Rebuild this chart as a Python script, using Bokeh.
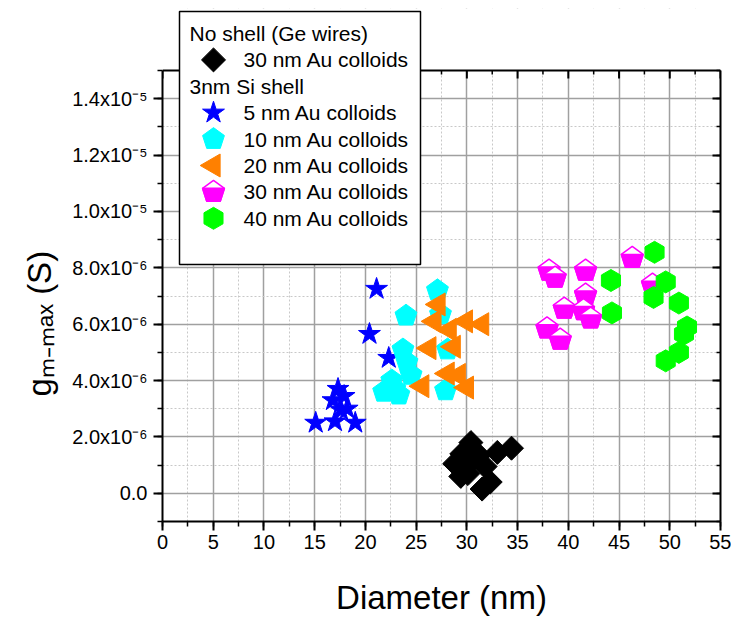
import numpy as np
from bokeh.plotting import figure
from bokeh.models import (Range1d, LinearAxis, SingleIntervalTicker, CustomJSTickFormatter,
                          ColumnDataSource, Title)
from bokeh.core.properties import value
from bokeh.embed import file_html
from bokeh.resources import INLINE

# ---------------- data (diameter in nm, g_m-max in S) ----------------
ge_x = [30.4, 29.5, 28.8, 34.4, 33.0, 31.8, 30.1, 31.5, 32.3, 29.4, 30.6, 31.2]
ge_y = [1.8e-6, 1.4e-6, 1.05e-6, 1.6e-6, 1.45e-6, 0.95e-6, 0.7e-6, 0.15e-6, 0.4e-6, 0.6e-6, 1.2e-6, 1.35e-6]

au5_x = [21.1, 20.4, 22.3, 17.3, 17.9, 16.8, 17.6, 15.1, 17.0, 19.0, 18.2]
au5_y = [7.25e-6, 5.65e-6, 4.8e-6, 3.7e-6, 3.45e-6, 3.3e-6, 2.95e-6, 2.5e-6, 2.55e-6, 2.5e-6, 3.0e-6]

au10_x = [27.1, 24.0, 27.4, 28.1, 23.7, 24.1, 24.5, 22.6, 21.8, 22.9, 27.9, 23.3]
au10_y = [7.2e-6, 6.3e-6, 6.35e-6, 5.1e-6, 5.1e-6, 4.65e-6, 4.2e-6, 4.0e-6, 3.6e-6, 3.7e-6, 3.65e-6, 3.5e-6]

au20_x = [27.2, 26.8, 29.9, 31.5, 28.3, 26.3, 28.7, 28.1, 29.2, 25.6, 30.0]
au20_y = [6.7e-6, 6.1e-6, 6.1e-6, 6.0e-6, 5.8e-6, 5.15e-6, 5.2e-6, 4.25e-6, 4.2e-6, 3.8e-6, 3.75e-6]

au30_x = [38.1, 38.7, 41.7, 46.3, 41.7, 39.6, 41.5, 42.2, 37.9, 39.2, 48.3]
au30_y = [7.9e-6, 7.65e-6, 7.9e-6, 8.35e-6, 7.05e-6, 6.55e-6, 6.5e-6, 6.2e-6, 5.85e-6, 5.45e-6, 7.4e-6]

au40_x = [48.5, 44.2, 49.6, 48.4, 50.9, 44.3, 51.7, 51.4, 50.9, 49.6]
au40_y = [8.55e-6, 7.55e-6, 7.5e-6, 6.95e-6, 6.75e-6, 6.4e-6, 5.9e-6, 5.65e-6, 5.0e-6, 4.7e-6]

y_tick_values = [0.0, 2e-6, 4e-6, 6e-6, 8e-6, 1e-5, 1.2e-5, 1.4e-5]
y_tick_labels = ["0.0", "2.0x10\u207b\u2076", "4.0x10\u207b\u2076", "6.0x10\u207b\u2076",
                 "8.0x10\u207b\u2076", "1.0x10\u207b\u2075", "1.2x10\u207b\u2075",
                 "1.4x10\u207b\u2075"]
x_title = "Diameter (nm)"
y_title = "g\u2098\u208b\u2098\u2090\u2093 (S)"

legend_headers = ["No shell (Ge wires)", "3nm Si shell"]
legend_labels = ["30 nm Au colloids", "5 nm Au colloids", "10 nm Au colloids",
                 "20 nm Au colloids", "30 nm Au colloids", "40 nm Au colloids"]

# ---------------- geometry ----------------
W, H = 731, 618
FL, FR, FB = 162, 720, 521       # frame left/right/bottom (px)
AXT = 70                          # pixel row of the plot's top edge
TOP = 8                           # frame top (room for the legend above the axes box)
X0, X1 = 0.0, 55.0
Y0, YT = -1e-6, 1.5e-5            # visible axis range
PXY = (YT - Y0) / (FB - AXT)      # data units per pixel (y)
PXX = (X1 - X0) / (FR - FL)       # data units per pixel (x)
Y1 = Y0 + (FB - TOP) * PXY        # frame top in data units
FONT = "Liberation Sans"

def dx(px):
    return np.asarray(px, dtype=float) * PXX

def dy(py):
    return np.asarray(py, dtype=float) * PXY

def sx(px):
    return X0 + (px - FL) * PXX

def sy(py):
    return Y0 + (FB - py) * PXY

def poly_offsets(R, n, start):
    a = np.deg2rad(start + 360.0 / n * np.arange(n))
    return R * np.cos(a), R * np.sin(a)

p = figure(width=W, height=H, x_range=Range1d(X0, X1), y_range=Range1d(Y0, Y1),
           output_backend="svg", toolbar_location=None,
           min_border_left=FL, min_border_right=W - FR, min_border_top=TOP,
           min_border_bottom=H - FB)
p.background_fill_color = "white"
p.border_fill_color = "white"
p.outline_line_color = None

xt = SingleIntervalTicker(interval=5, num_minor_ticks=2)
yt = SingleIntervalTicker(interval=2e-6, num_minor_ticks=2)

xa = p.xaxis[0]
xa.ticker = xt
xa.axis_line_width = 2
xa.major_tick_out = 9
xa.major_tick_in = 0
xa.minor_tick_out = 5
xa.minor_tick_in = 0
xa.major_tick_line_width = 2
xa.minor_tick_line_width = 1.5
xa.major_label_text_font = FONT
xa.major_label_text_font_size = "20px"
xa.major_label_text_color = "black"
xa.major_label_standoff = 4
xa.axis_label = x_title
xa.axis_label_text_font = FONT
xa.axis_label_text_font_size = "33px"
xa.axis_label_text_font_style = "normal"
xa.axis_label_text_color = "black"
xa.axis_label_standoff = 27

ya = p.yaxis[0]
ya.ticker = yt
ya.bounds = (Y0, YT)
ya.formatter = CustomJSTickFormatter(
    args=dict(vals=y_tick_values, labs=y_tick_labels),
    code="""
const i = vals.findIndex(v => Math.abs(v - tick) < 1e-9);
return i >= 0 ? labs[i] : "";
""")
ya.major_label_text_font = FONT
ya.major_label_text_font_size = "20px"
ya.major_label_text_color = "black"
ya.major_label_standoff = 6
ya.axis_line_width = 2
ya.major_tick_out = 9
ya.major_tick_in = 0
ya.minor_tick_out = 5
ya.minor_tick_in = 0
ya.major_tick_line_width = 2
ya.minor_tick_line_width = 1.5

# y title: placed like the original (starts low on the axis)
p.add_layout(Title(text=y_title, align="left", offset=FB - 396, standoff=24,
                   text_font=FONT, text_font_size="33px", text_font_style="normal",
                   text_color="black"), "left")

right_axis = LinearAxis(ticker=yt, bounds=(Y0, YT),
                        formatter=CustomJSTickFormatter(code="return ''"),
                        major_label_text_font_size="0px", major_label_standoff=0,
                        axis_line_width=2, major_tick_in=8, major_tick_out=0,
                        minor_tick_in=4, minor_tick_out=0,
                        major_tick_line_width=2, minor_tick_line_width=1.5)
p.add_layout(right_axis, "right")

p.xgrid.ticker = xt
p.ygrid.ticker = yt
for g in (p.xgrid, p.ygrid):
    g.grid_line_color = "#a0a0a0"
    g.grid_line_width = 1.5
    g.minor_grid_line_color = "#c8c8c8"
    g.minor_grid_line_dash = "2 2"
    g.minor_grid_line_width = 1

# white band above the axes box (hides the grid there)
p.quad(left=[X0], right=[X1], bottom=[YT], top=[Y1], fill_color="white", line_color=None)

# ---------------- data marks ----------------
p.scatter(ge_x, ge_y, marker="square", size=17, angle=np.pi / 4,
          fill_color="black", line_color="black")
p.scatter(au5_x, au5_y, marker="star", size=23,
          fill_color="#0000FF", line_color="#0000FF")

PR = 11.5
ox, oy = poly_offsets(PR, 5, 90)
p.patches([list(x + dx(ox)) for x in au10_x], [list(y + dy(oy)) for y in au10_y],
          fill_color="#00FFFF", line_color="#00FFFF", line_width=1)

p.scatter(au20_x, au20_y, marker="triangle", size=23, angle=np.pi / 2,
          fill_color="#FF8000", line_color="#FF8000")

mxs, mys, mfill = [], [], []
for x, y in zip(au30_x, au30_y):
    px_ = x + dx(ox)
    py_ = y + dy(oy)
    mxs.append(list(px_)); mys.append(list(py_)); mfill.append("white")
    mxs.append(list(px_[1:])); mys.append(list(py_[1:])); mfill.append("#FF00FF")
p.patches("xs", "ys", source=ColumnDataSource(dict(xs=mxs, ys=mys, fill=mfill)),
          fill_color="fill", line_color="#FF00FF", line_width=1.5)

p.scatter(au40_x, au40_y, marker="hex", size=22, angle=np.pi / 2,
          fill_color="#00FF00", line_color="#00FF00")

# ---------------- top edge of the axes box with inward ticks ----------------
major_x = np.arange(X0, X1 + 0.01, 5.0)
minor_x = np.arange(X0 + 2.5, X1, 5.0)
p.segment(x0=[X0], y0=[YT], x1=[X1], y1=[YT], line_color="black", line_width=2)
p.segment(x0=major_x, y0=[YT] * len(major_x), x1=major_x, y1=[YT - float(dy(8))] * len(major_x),
          line_color="black", line_width=2)
p.segment(x0=minor_x, y0=[YT] * len(minor_x), x1=minor_x, y1=[YT - float(dy(4))] * len(minor_x),
          line_color="black", line_width=1.5)

# ---------------- legend ----------------
p.quad(left=[sx(179)], right=[sx(420)], top=[sy(11)], bottom=[sy(264)],
       fill_color="white", line_color="black", line_width=1.5)

ROW0, PITCH = 33.0, 26.4
rows = [ROW0 + PITCH * i for i in range(8)]
MX = 213
lx = sx(MX)

p.scatter([lx], [sy(rows[1])], marker="square", size=17, angle=np.pi / 4,
          fill_color="black", line_color="black")
p.scatter([lx], [sy(rows[3])], marker="star", size=23,
          fill_color="#0000FF", line_color="#0000FF")
p.patches([list(lx + dx(ox))], [list(sy(rows[4]) + dy(oy))],
          fill_color="#00FFFF", line_color="#00FFFF")
p.scatter([lx], [sy(rows[5])], marker="triangle", size=23, angle=np.pi / 2,
          fill_color="#FF8000", line_color="#FF8000")
p.patches([list(lx + dx(ox)), list(lx + dx(ox[1:]))],
          [list(sy(rows[6]) + dy(oy)), list(sy(rows[6]) + dy(oy[1:]))],
          fill_color=["white", "#FF00FF"], line_color="#FF00FF", line_width=1.5)
p.scatter([lx], [sy(rows[7])], marker="hex", size=22, angle=np.pi / 2,
          fill_color="#00FF00", line_color="#00FF00")

p.text(x=[sx(189), sx(189)], y=[sy(rows[0]), sy(rows[2])], text=legend_headers,
       text_font=value(FONT), text_font_size=value("21px"), text_align="left",
       text_baseline="middle", text_color="black")
p.text(x=[sx(243)] * len(legend_labels), y=[sy(r) for r in [rows[1]] + rows[3:]],
       text=legend_labels, text_font=value(FONT), text_font_size=value("21px"),
       text_align="left", text_baseline="middle", text_color="black")

open("out.html", "w").write(file_html(p, INLINE))
